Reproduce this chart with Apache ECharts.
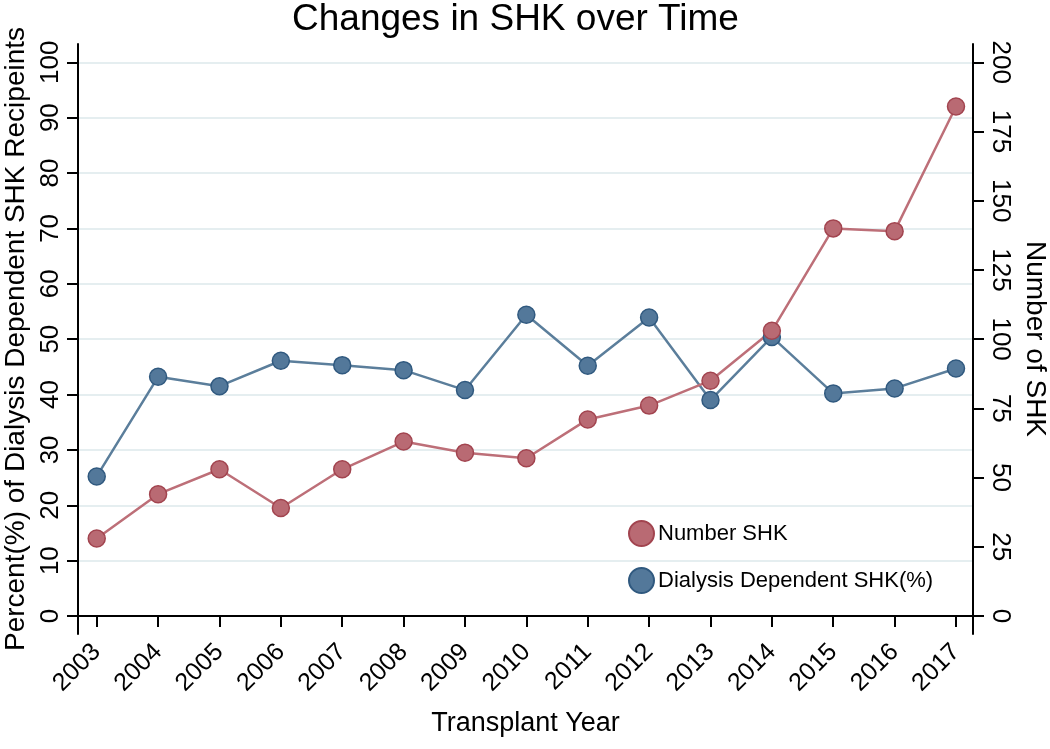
<!DOCTYPE html>
<html>
<head>
<meta charset="utf-8">
<script src="https://cdn.jsdelivr.net/npm/echarts@6/dist/echarts.min.js"></script>
<style>html,body{margin:0;padding:0;background:#fff}#c{width:1050px;height:749px}</style>
</head>
<body>
<div id="c"></div>
<script>
const years = [2003,2004,2005,2006,2007,2008,2009,2010,2011,2012,2013,2014,2015,2016,2017];
const numberSHK = [28,44,53,39,53,63,59,57,71,76,85,103,140,139,184];
const dialysisPct = [25.2,43.2,41.5,46.1,45.3,44.4,40.8,54.4,45.2,53.9,39.0,50.4,40.2,41.1,44.7];
const leftTicks = [0,10,20,30,40,50,60,70,80,90,100];
const rightTicks = [0,25,50,75,100,125,150,175,200];

const FONT = 'Liberation Sans, Arial, Helvetica, sans-serif';
const RED = '#b96a73', RED_B = '#a2444f', RED_L = '#bd6f78';
const BLUE = '#53789a', BLUE_B = '#30597f', BLUE_L = '#5b7e9b';

const chart = echarts.init(document.getElementById('c'), null, {renderer: 'canvas'});
chart.setOption({
  animation: false,
  backgroundColor: '#fff',
  title: {
    text: 'Changes in SHK over Time',
    left: 287, top: -4,
    textStyle: {fontFamily: FONT, fontSize: 37, fontWeight: 'normal', color: '#000'}
  },
  grid: {left: 78, right: 77, top: 44, bottom: 115, containLabel: false, outerBoundsMode: 'none'},
  legend: {
    orient: 'vertical', left: 623, top: 515,
    itemWidth: 25, itemHeight: 25, itemGap: 20,
    icon: 'circle',
    data: ['Number SHK', 'Dialysis Dependent SHK(%)'],
    textStyle: {fontFamily: FONT, fontSize: 22, color: '#000', padding: [0,0,0,-1]}
  },
  xAxis: {
    type: 'value', min: 2002.695, max: 2017.277,
    name: 'Transplant Year', nameLocation: 'middle', nameGap: 76,
    nameTextStyle: {fontFamily: FONT, fontSize: 27, color: '#000'},
    axisLine: {show: true, lineStyle: {color: '#000', width: 2}},
    axisTick: {show: true, length: 11, lineStyle: {color: '#000', width: 2}, customValues: years},
    axisLabel: {customValues: years, rotate: 45, margin: 14, fontFamily: FONT, fontSize: 25, color: '#000', formatter: v => String(v)},
    splitLine: {show: false}
  },
  yAxis: [{
    type: 'value', position: 'left', min: -3.25, max: 103.3,
    name: 'Percent(%) of Dialysis Dependent SHK Recipeints', nameLocation: 'middle', nameGap: 48, nameRotate: 90,
    nameTextStyle: {fontFamily: FONT, fontSize: 28, color: '#000'},
    axisLine: {show: true, lineStyle: {color: '#000', width: 2}},
    axisTick: {show: true, length: 11, lineStyle: {color: '#000', width: 2}, customValues: leftTicks},
    axisLabel: {customValues: leftTicks, rotate: 90, margin: 14, fontFamily: FONT, fontSize: 26, color: '#000'},
    splitLine: {show: true, lineStyle: {color: '#e5eef0', width: 2}}
  }, {
    type: 'value', position: 'right', min: -6.5, max: 206.6,
    name: 'Number of SHK', nameLocation: 'middle', nameGap: 44, nameRotate: -90,
    nameTextStyle: {fontFamily: FONT, fontSize: 28, color: '#000'},
    axisLine: {show: true, lineStyle: {color: '#000', width: 2}},
    axisTick: {show: true, length: 11, lineStyle: {color: '#000', width: 2}, customValues: rightTicks},
    axisLabel: {customValues: rightTicks, rotate: -90, margin: 14, fontFamily: FONT, fontSize: 26, color: '#000'},
    splitLine: {show: false}
  }],
  series: [{
    name: 'Dialysis Dependent SHK(%)', type: 'line', yAxisIndex: 0,
    data: years.map((y, i) => [y, dialysisPct[i]]),
    symbol: 'circle', symbolSize: 17,
    lineStyle: {color: BLUE_L, width: 2.5},
    itemStyle: {color: BLUE, borderColor: BLUE_B, borderWidth: 1.5}
  }, {
    name: 'Number SHK', type: 'line', yAxisIndex: 1,
    data: years.map((y, i) => [y, numberSHK[i]]),
    symbol: 'circle', symbolSize: 17,
    lineStyle: {color: RED_L, width: 2.5},
    itemStyle: {color: RED, borderColor: RED_B, borderWidth: 1.5}
  }]
});
</script>
</body>
</html>
